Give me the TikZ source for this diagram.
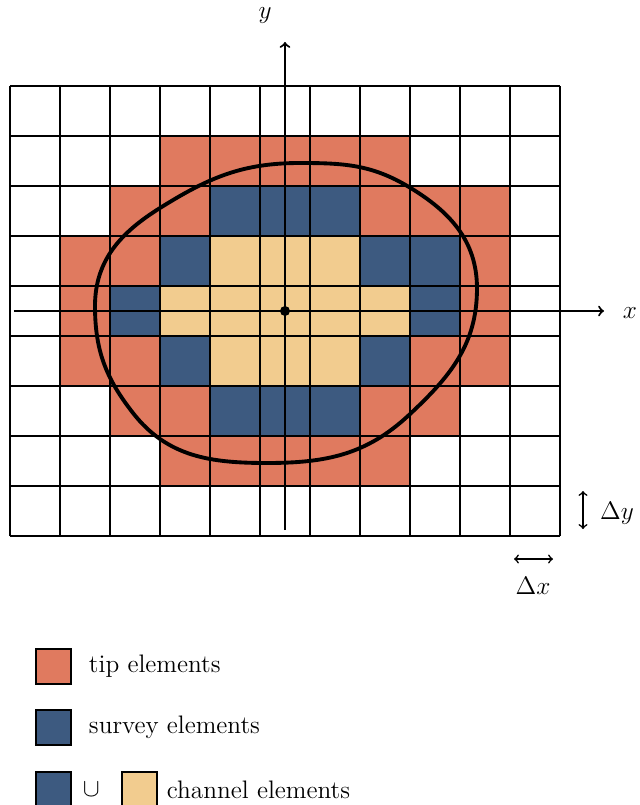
\documentclass[tikz,border=0pt]{standalone}
\usepackage{amsmath,amssymb}
\usepackage{xcolor}
\usetikzlibrary{positioning,calc,arrows}
\definecolor{tipcol}{RGB}{224,122,95}
\definecolor{survcol}{RGB}{61,90,128}
\definecolor{chancol}{RGB}{242,204,143}
\tikzset{legbox/.style={draw,line width=0.9pt,minimum size=0.7cm,inner sep=0pt}  }
\tikzset{axis/.style={line width=1.2pt,->}  }
\tikzset{odot/.style={circle,fill=black,minimum size=0.2cm,inner sep=0pt}  }

\begin{document}
\begin{tikzpicture}[font=\Large]
	\useasboundingbox (-5.7,-9.88) rectangle (7.1,6.22);
		\foreach \c/\r in {3/1,4/1,5/1,6/1,7/1,2/2,3/2,7/2,8/2,9/2,1/3,2/3,9/3,1/4,9/4,1/5,2/5,8/5,9/5,2/6,3/6,7/6,8/6,3/7,4/7,5/7,6/7,7/7}
			\fill[tipcol] (\c-5.5,3.5-\r) rectangle ++(1,1);
		\foreach \c/\r in {4/2,5/2,6/2,3/3,7/3,8/3,2/4,8/4,3/5,7/5,4/6,5/6,6/6}
			\fill[survcol] (\c-5.5,3.5-\r) rectangle ++(1,1);
		\foreach \c/\r in {4/3,5/3,6/3,3/4,4/4,5/4,6/4,7/4,4/5,5/5,6/5}
			\fill[chancol] (\c-5.5,3.5-\r) rectangle ++(1,1);
		\draw[line width=0.6pt,shift={(-5.5,-4.5)}] (0,0) grid (11,9);

		\coordinate (c1) at (-3.8,0.1);
		\coordinate (c2) at (-2.5,2.06);
		\coordinate (c3) at (0.3,2.96);
		\coordinate (c4) at (2.48,2.48);
		\coordinate (c5) at (3.84,0.45);
		\coordinate (c6) at (2.48,-2.08);
		\coordinate (c7) at (-0.36,-3.04);
		\coordinate (c8) at (-3.04,-2.04);
		\draw[line width=2.2pt,line join=round]
			(c1) to[out=90,in=212] (c2) to[out=32,in=180] (c3) to[out=0,in=149] (c4)
			to[out=-31,in=90] (c5) to[out=-90,in=43] (c6) to[out=223,in=0] (c7)
			to[out=180,in=-52] (c8) to[out=128,in=-90] (c1) -- cycle;

		\coordinate (xa) at (-5.42,0);
		\coordinate (xb) at (6.38,0);
		\coordinate (ya) at (0,-4.38);
		\coordinate (yb) at (0,5.38);
		\draw[axis] (xa) -- (xb);
		\draw[axis] (ya) -- (yb);
		\node[odot] (o) at (0,0) {};
		\node (xl) at (6.9,-0.04) {$x$};
		\node (yl) at (-0.4,5.9) {$y$};

		\coordinate (dya) at (5.96,-3.6);
		\coordinate (dyb) at (5.96,-4.36);
		\coordinate (dxa) at (4.58,-4.96);
		\coordinate (dxb) at (5.36,-4.96);
		\draw[<->,line width=0.9pt] (dya) -- (dyb);
		\draw[<->,line width=0.9pt] (dxa) -- (dxb);
		\node (dyl) at (6.64,-4.04) {$\Delta y$};
		\node (dxl) at (4.96,-5.5) {$\Delta x$};

		\node[legbox,fill=tipcol] (tipbox) at (-4.63,-7.11) {};
		\node[right=0.22cm of tipbox] (tiptxt) {tip elements};
		\node[legbox,fill=survcol,below=0.49cm of tipbox] (survbox) {};
		\node[right=0.22cm of survbox] (survtxt) {survey elements};
		\node[legbox,fill=survcol,below=0.51cm of survbox] (chanbox) {};
		\node[right=0.1cm of chanbox] (cup) {$\cup$};
		\node[legbox,fill=chancol,right=0.3cm of cup] (chanbox2) {};
		\node[right=0.06cm of chanbox2] (chantxt) {channel elements};
	\end{tikzpicture}
\end{document}
